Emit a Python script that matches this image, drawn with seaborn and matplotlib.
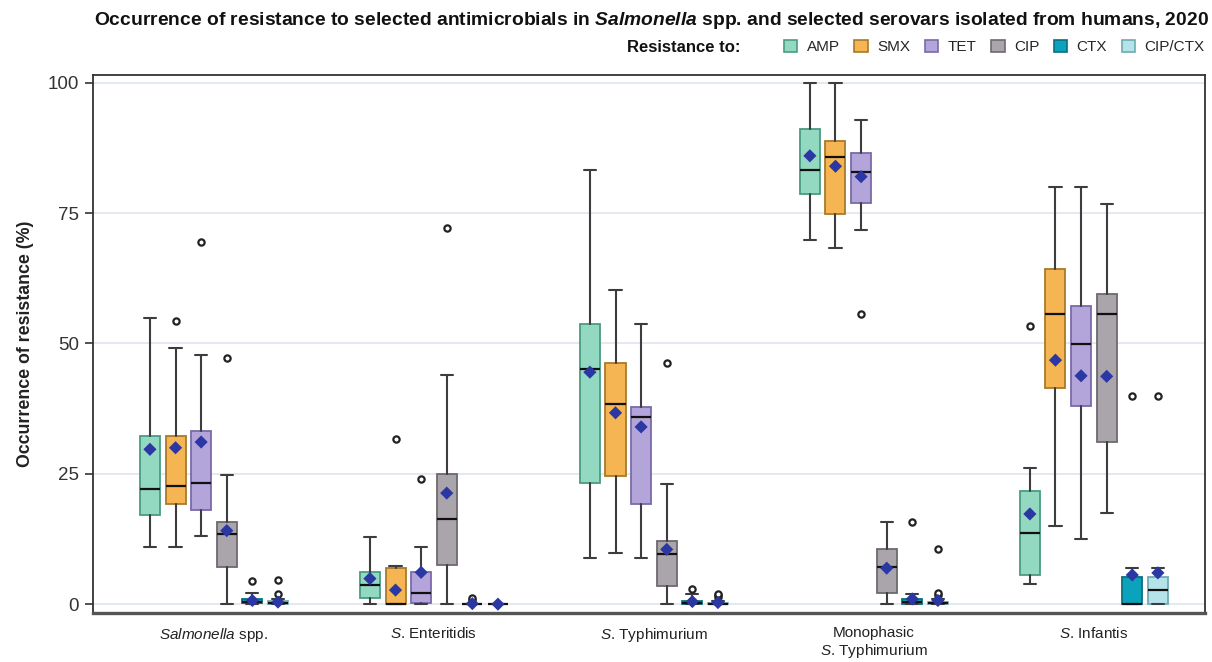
import numpy as np
import pandas as pd
import matplotlib
matplotlib.use("Agg")
import matplotlib.pyplot as plt
from matplotlib.patches import Patch
import seaborn as sns

# ---------------- data ----------------
serovars = [r"$\mathit{Salmonella}$ spp.", r"$\mathit{S}$. Enteritidis", r"$\mathit{S}$. Typhimurium",
            "Monophasic\n" + r"$\mathit{S}$. Typhimurium", r"$\mathit{S}$. Infantis"]
drugs = ["AMP", "SMX", "TET", "CIP", "CTX", "CIP/CTX"]

# rows = serovar, cols = drug
whislo = [[11.0, 11.0, 13.0, 0.0, 0.0, 0.0],
          [0.0, 0.0, 0.0, 0.0, 0.0, 0.0],
          [8.8, 9.9, 8.8, 0.0, 0.0, 0.0],
          [69.8, 68.4, 71.7, 0.0, 0.0, 0.0],
          [3.8, 15.0, 12.5, 17.4, 0.0, 0.0]]
q1 = [[17.1, 19.2, 18.0, 7.2, 0.2, 0.1],
      [1.2, 0.0, 0.3, 7.5, 0.0, 0.0],
      [23.2, 24.5, 19.3, 3.4, 0.0, 0.0],
      [78.7, 74.8, 76.9, 2.1, 0.0, 0.0],
      [5.6, 41.5, 38.1, 31.1, 0.0, 0.0]]
med = [[22.1, 22.6, 23.2, 13.4, 0.5, 0.3],
       [3.7, 0.0, 2.1, 16.3, 0.0, 0.0],
       [45.1, 38.4, 35.9, 9.6, 0.3, 0.1],
       [83.3, 85.7, 82.9, 7.1, 0.5, 0.2],
       [13.7, 55.6, 49.9, 55.6, 0.0, 2.7]]
q3 = [[32.2, 32.2, 33.2, 15.8, 0.9, 0.6],
      [6.1, 6.9, 6.1, 25.0, 0.0, 0.0],
      [53.8, 46.2, 37.9, 12.1, 0.7, 0.3],
      [91.2, 88.8, 86.6, 10.6, 1.0, 0.5],
      [21.7, 64.3, 57.1, 59.4, 5.3, 5.3]]
whishi = [[54.9, 49.2, 47.7, 24.7, 2.2, 1.0],
          [12.8, 7.4, 11.0, 43.9, 0.0, 0.0],
          [83.3, 60.3, 53.7, 23.0, 1.9, 0.7],
          [100.0, 100.0, 92.8, 15.8, 1.9, 0.9],
          [26.1, 80.0, 80.0, 76.7, 6.9, 6.9]]
means = [[29.7, 30.0, 31.1, 14.1, 0.7, 0.4],
         [4.9, 2.7, 6.1, 21.3, 0.1, 0.0],
         [44.5, 36.7, 34.0, 10.5, 0.5, 0.3],
         [86.0, 84.0, 82.0, 6.9, 1.0, 0.7],
         [17.3, 46.8, 43.8, 43.7, 5.6, 6.0]]
outliers = [[[], [54.4], [69.4], [47.2], [4.5], [1.9, 4.6]],
            [[], [31.6], [24.1], [72.2], [0.8, 1.2], []],
            [[], [], [], [46.2], [2.9], [1.3, 1.7, 2.0]],
            [[], [], [55.6], [], [15.8], [1.7, 2.1, 10.5]],
            [[53.3], [], [], [], [40.0], [40.0]]]

fills = ["#93d8c0", "#f5b553", "#b3a5da", "#aaa5aa", "#0aa3bb", "#b4e4ea"]
edges = ["#4a9c83", "#a87a2c", "#7a6aa8", "#6e696e", "#0a6f80", "#70aab2"]

# ---------------- style ----------------
sns.set_theme(style="white")
plt.rcParams["font.family"] = ["Liberation Sans", "DejaVu Sans"]
plt.rcParams["mathtext.fontset"] = "custom"
plt.rcParams["mathtext.rm"] = "Liberation Sans"
plt.rcParams["mathtext.it"] = "Liberation Sans:italic"
plt.rcParams["mathtext.bf"] = "Liberation Sans:bold"
plt.rcParams["mathtext.bfit"] = "Liberation Sans:italic:bold"

fig = plt.figure(figsize=(12.12, 6.62), dpi=100)
ax = fig.add_axes([0.0767, 0.074, 0.9175, 0.8127])

step = 0.1164
bw = 0.091
stats, pos, colors_f, colors_e = [], [], [], []
rows = []
for i in range(len(serovars)):
    for j in range(len(drugs)):
        p = i + (j - 2.5) * step
        stats.append(dict(whislo=whislo[i][j], q1=q1[i][j], med=med[i][j],
                          q3=q3[i][j], whishi=whishi[i][j], fliers=outliers[i][j]))
        pos.append(p)
        colors_f.append(fills[j])
        colors_e.append(edges[j])
        rows.append(dict(pos=p, mean=means[i][j], drug=drugs[j]))

bp = ax.bxp(stats, positions=pos, widths=bw, patch_artist=True, showfliers=True,
            capwidths=0.055,
            whiskerprops=dict(color="#3d3d3d", lw=1.5),
            capprops=dict(color="#3d3d3d", lw=1.5),
            medianprops=dict(color="#111111", lw=1.6),
            flierprops=dict(marker="o", markersize=4.5, markerfacecolor="white",
                            markeredgecolor="#222222", markeredgewidth=1.6))
for box, fc, ec in zip(bp["boxes"], colors_f, colors_e):
    box.set_facecolor(fc)
    box.set_edgecolor(ec)
    box.set_linewidth(1.3)
    box.set_zorder(2)

df = pd.DataFrame(rows)
sns.scatterplot(data=df, x="pos", y="mean", marker="D", color="#2b37a3", s=45,
                edgecolor="none", ax=ax, zorder=6, legend=False)

ax.set_xlim(-0.55, 4.505)
ax.set_ylim(-1.7, 101.5)
ax.set_yticks([0, 25, 50, 75, 100])
ax.set_yticklabels(["0", "25", "50", "75", "100"], fontsize=13.5, color="#333333")
ax.set_xticks(range(len(serovars)))
ax.set_xticklabels(serovars, fontsize=11, color="#222222")
ax.tick_params(axis="x", length=0, pad=9)
ax.tick_params(axis="y", length=6, width=1.2, color="#333333", direction="out", left=True, pad=4)
ax.yaxis.grid(True, color="#dfe5ec", lw=1.2)
ax.set_axisbelow(True)
ax.set_xlabel("")
ax.set_ylabel("Occurrence of resistance (%)", fontsize=12.8, fontweight="bold",
              color="#222222", labelpad=10)
for s in ["left", "top", "right"]:
    ax.spines[s].set_color("#333333")
    ax.spines[s].set_linewidth(1.3)
ax.spines["bottom"].set_color("#555555")
ax.spines["bottom"].set_linewidth(2.4)

fig.text(0.5375, 0.969,
         r"Occurrence of resistance to selected antimicrobials in $\mathbfit{Salmonella}$ spp. and selected serovars isolated from humans, 2020",
         ha="center", va="center", fontsize=13.9, fontweight="bold", color="#111111")

handles = [Patch(facecolor=f, edgecolor=e, lw=1.2) for f, e in zip(fills, edges)]
leg = fig.legend(handles, drugs, loc="center right", bbox_to_anchor=(0.999, 0.929),
                 ncol=6, frameon=False, fontsize=11, handlelength=0.9, handleheight=0.9,
                 columnspacing=0.95, handletextpad=0.6, borderaxespad=0)
fig.text(0.611, 0.929, "Resistance to:", ha="right", va="center", fontsize=12,
         fontweight="bold", color="#111111")

fig.savefig("out.png", dpi=100)
